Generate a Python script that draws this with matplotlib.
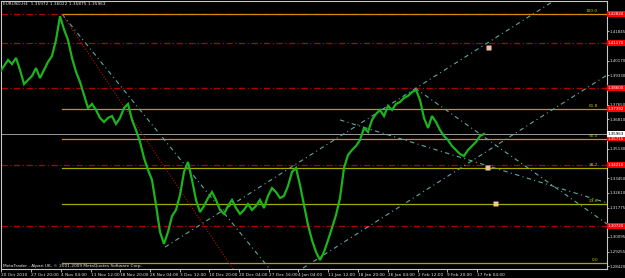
import matplotlib
matplotlib.use("Agg")
import matplotlib.pyplot as plt
import numpy as np

plt.rcParams['font.family'] = ['Liberation Sans Narrow', 'DejaVu Sans']

# EURUSD H4 closes, one value every 4 bars
closes = [1.3952, 1.3986, 1.4020, 1.3997, 1.4032, 1.3963, 1.3883, 1.3906, 1.3929, 1.3974,
          1.3917, 1.3963, 1.4009, 1.4043, 1.4134, 1.4270, 1.4195, 1.4134, 1.4032, 1.3952,
          1.3895, 1.3820, 1.3746, 1.3769, 1.3735, 1.3689, 1.3666, 1.3689, 1.3700, 1.3655,
          1.3689, 1.3746, 1.3769, 1.3678, 1.3620, 1.3552, 1.3461, 1.3392, 1.3335, 1.3192,
          1.3038, 1.2970, 1.3038, 1.3129, 1.3164, 1.3249, 1.3381, 1.3438, 1.3335, 1.3221,
          1.3152, 1.3187, 1.3232, 1.3266, 1.3221, 1.3164, 1.3141, 1.3187, 1.3221, 1.3175,
          1.3141, 1.3164, 1.3198, 1.3164, 1.3187, 1.3221, 1.3175, 1.3244, 1.3289, 1.3266,
          1.3232, 1.3244, 1.3301, 1.3381, 1.3404, 1.3306, 1.3192, 1.3078, 1.2991, 1.2924,
          1.2878, 1.2924, 1.2991, 1.3061, 1.3135, 1.3232, 1.3404, 1.3478, 1.3506, 1.3529,
          1.3563, 1.3632, 1.3609, 1.3678, 1.3712, 1.3735, 1.3700, 1.3758, 1.3735, 1.3769,
          1.3780, 1.3803, 1.3815, 1.3837, 1.3849, 1.3792, 1.3689, 1.3632, 1.3700, 1.3666,
          1.3620, 1.3586, 1.3563, 1.3529, 1.3506, 1.3483, 1.3472, 1.3506, 1.3529, 1.3552,
          1.3586, 1.3598]
bar_step = 4

title = "EURUSD,H4  1.35972 1.36022 1.35875 1.35963"
footer = "MetaTrader - Alpari UK, \u00a9 2001-2009 MetaQuotes Software Corp."
bid = 1.35963

# time axis
date_pos = [1, 31, 61, 91, 120, 150, 180, 209, 239, 269, 298, 328, 358, 388, 418, 447, 477]
date_labels = ["20 Oct 2010", "27 Oct 20:00", "4 Nov 04:00", "11 Nov 12:00", "18 Nov 20:00",
               "26 Nov 04:00", "3 Dec 12:00", "10 Dec 20:00", "20 Dec 04:00", "27 Dec 16:00",
               "4 Jan 04:00", "11 Jan 12:00", "18 Jan 20:00", "26 Jan 04:00", "2 Feb 12:00",
               "9 Feb 20:00", "17 Feb 04:00"]

# price scale labels that are not hidden behind a price tag
price_ticks = [1.41845, 1.40170, 1.39330, 1.37650, 1.36810, 1.35130, 1.33450,
               1.32610, 1.31775, 1.30095, 1.29255, 1.28420]

# fibonacci retracement from the Nov high to the Jan low
fib_start = 62
fib_high = 1.4282
fib_low = 1.2861
fib_levels = [100.0, 61.8, 50.0, 38.2, 23.6, 0.0]
fib_colors = ["#D88A10", "#D88A10", "#D88A10", "#A8A800", "#A8A800", "#A8A800"]

# horizontal support / resistance lines
hlines = [1.4282, 1.4117, 1.3860, 1.3421, 1.3072]

# trend lines (bar, price) pairs
teal_lines = [
    [(62, 1.4282), (270, 1.2824)],
    [(165, 1.2952), (560, 1.4380)],
    [(303, 1.2832), (607, 1.3934)],
    [(340, 1.3678), (607, 1.3204)],
    [(415, 1.3860), (607, 1.3084)],
]
red_line = [(62, 1.4282), (233, 1.2827)]

marks_x = [488, 487, 495]
marks_y = [1.4094, 1.3409, 1.3204]

fig = plt.figure(figsize=(6.25, 2.78), dpi=100, facecolor="black")
ax = fig.add_axes([1 / 625, 9 / 278, 606 / 625, 268 / 278], facecolor="black")
ax.set_xlim(1, 607)
ax.set_ylim(1.28267, 1.43570)

axis_col = "#C8C8C8"
small = 3.1
for s in ax.spines.values():
    s.set_color(axis_col)
    s.set_linewidth(0.8)

# fib levels
for lvl, col in zip(fib_levels, fib_colors):
    p = fib_low + (fib_high - fib_low) * lvl / 100
    ax.plot([fib_start, 607], [p, p], color=col, lw=0.9, zorder=2)
    ax.text(598, p + 0.0005, "%.1f" % lvl, color="#C8C800", fontsize=small,
            ha="right", va="bottom", zorder=4)

for p in hlines:
    ax.axhline(p, color="#B00000", lw=0.9, ls=(0, (5, 2, 1, 2)), zorder=1.5)

ax.axhline(bid, color="#9A9A9A", lw=0.7, zorder=1.6)

for seg in teal_lines:
    xs, ys = zip(*seg)
    ax.plot(xs, ys, color="#5FA8A0", lw=0.8, ls=(0, (4, 3, 1, 3)), zorder=2.2)
xs, ys = zip(*red_line)
ax.plot(xs, ys, color="#B01010", lw=0.8, ls=(0, (1, 1.5)), zorder=2.2)

x = np.arange(len(closes)) * bar_step
ax.plot(x, closes, color="#1CB41C", lw=1.6, solid_joinstyle="miter", zorder=3)

ax.plot(marks_x, marks_y, "s", color="#E8C4A8", ms=3.6, mec="none", zorder=4)

ax.yaxis.tick_right()
ax.set_yticks(price_ticks)
ax.set_yticklabels(["%.5f" % t for t in price_ticks])
ax.tick_params(axis="y", colors=axis_col, labelsize=2.9, length=1.5, width=0.6, pad=0.4,
               labelcolor="#E0E0E0")
ax.set_xticks(date_pos)
ax.set_xticklabels(date_labels, ha="left")
ax.tick_params(axis="x", colors=axis_col, labelsize=small, length=2, width=0.6, pad=0.8,
               labelcolor="#E0E0E0")

# price tags on the right
tr = ax.get_yaxis_transform()
tag_prices = [fib_high, hlines[1], hlines[2],
              fib_low + (fib_high - fib_low) * 0.618,
              fib_low + (fib_high - fib_low) * 0.5,
              hlines[3], hlines[4]]
for p in tag_prices:
    ax.text(1.0015, p, "%.5f" % p, transform=tr, fontsize=2.9, color="white",
            ha="left", va="center", clip_on=False, zorder=5,
            bbox=dict(boxstyle="square,pad=0.22", fc="#FF0000", ec="none"))
ax.text(1.0015, bid, "%.5f" % bid, transform=tr, fontsize=2.9, color="black",
        ha="left", va="center", clip_on=False, zorder=6,
        bbox=dict(boxstyle="square,pad=0.22", fc="white", ec="none"))

ax.text(3, 1.4340, title, color="#E8E8E8", fontsize=small, ha="left", va="center", zorder=5)
ax.text(3, 1.2845, footer, color="#E8E8E8", fontsize=small, ha="left", va="center", zorder=5)

fig.savefig("out.png", dpi=100, facecolor="black")
